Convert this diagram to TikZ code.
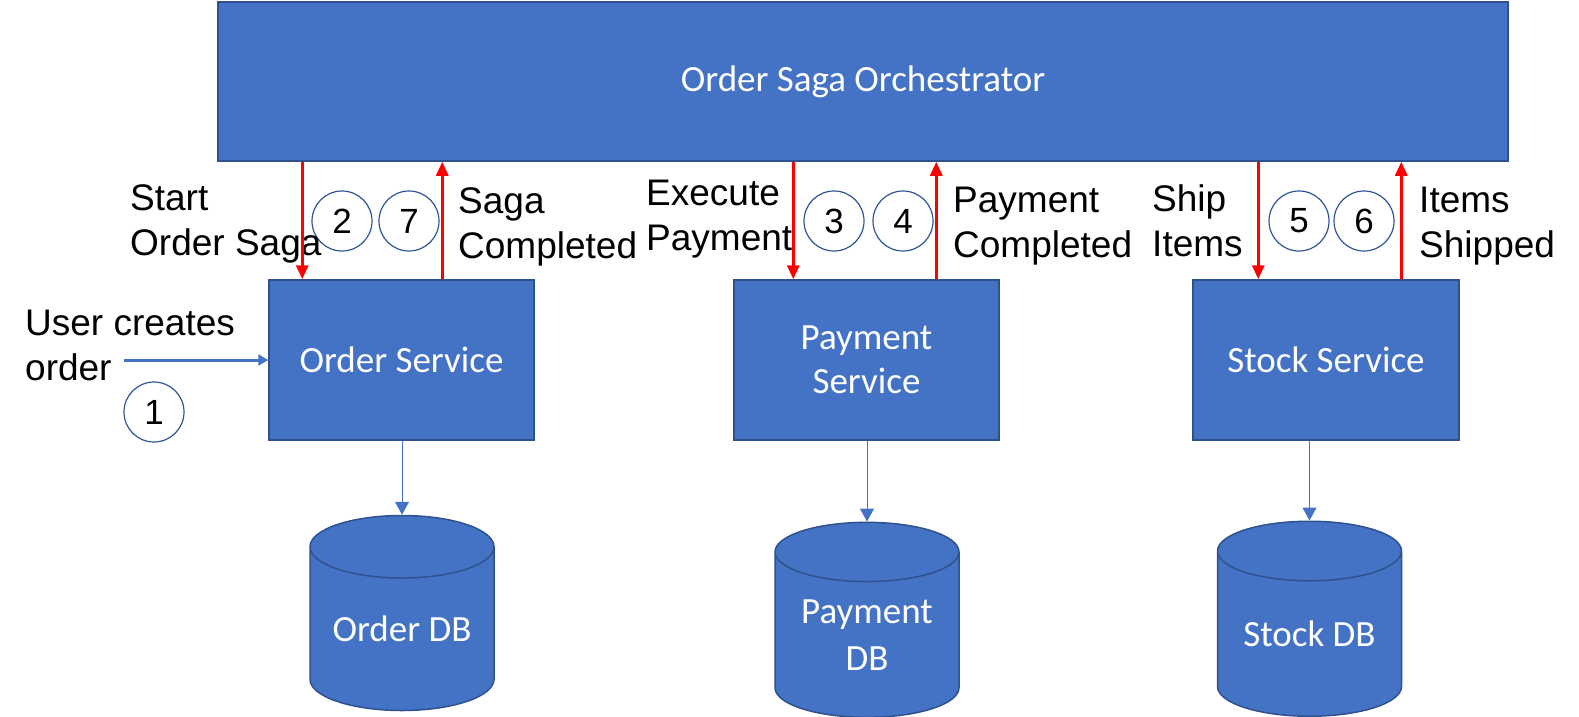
\documentclass[tikz,border=0pt]{standalone}
\usepackage{fontspec}
\setmainfont{Liberation Sans}
\newfontfamily\boxfont{Carlito}
\usepackage{tikz}
\usetikzlibrary{arrows.meta,shapes.geometric,calc}

\definecolor{boxblue}{HTML}{4472C4}
\definecolor{boxline}{HTML}{2F528F}
\definecolor{ringblue}{HTML}{2F5597}
\definecolor{msgred}{HTML}{FF0000}

\tikzset{
  service/.style={draw=boxline,line width=1.5pt,fill=boxblue,text=white,
    font=\boxfont\fontsize{37}{44}\selectfont,align=center,inner sep=0pt},
  db/.style={cylinder,shape border rotate=90,aspect=0.45,draw=boxline,line width=1.5pt,
    fill=boxblue,text=white,font=\boxfont\fontsize{37}{47}\selectfont,align=center,
    minimum width=184pt,minimum height=195pt,inner sep=0pt},
  stepno/.style={circle,draw=ringblue,line width=1.2pt,minimum size=60pt,inner sep=0pt,
    font=\fontsize{35}{40}\selectfont},
  msg/.style={anchor=north west,align=left,inner sep=0pt,font=\fontsize{37}{45}\selectfont},
  call/.style={draw=msgred,line width=3pt,-{Triangle[width=12pt,length=14pt]}},
  store/.style={draw=boxblue,line width=1pt,-{Triangle[width=14pt,length=13pt]}},
}

\begin{document}
\begin{tikzpicture}[x=1pt,y=-1pt]
\useasboundingbox (0,0) rectangle (1579,716);

% orchestrator and services
\node[service,minimum width=1290pt,minimum height=159pt] (orch) at (863,81.5) {Order Saga Orchestrator};
\node[service,minimum width=265pt,minimum height=160pt] (ordersvc) at (401.5,360) {Order Service};
\node[service,minimum width=265pt,minimum height=160pt] (paysvc) at (866.5,360) {Payment\\Service};
\node[service,minimum width=266pt,minimum height=160pt] (stocksvc) at (1326,360) {Stock Service};

% databases
\node[db] (orderdb) at (402,629) {Order DB};
\node[db] (paydb) at (867,635) {Payment\\DB};
\node[db] (stockdb) at (1309.5,634) {Stock DB};

% step numbers
\node[stepno] (s1) at (154,412) {1};
\node[stepno] (s2) at (342,221) {2};
\node[stepno] (s7) at (409,221) {7};
\node[stepno] (s3) at (834,221) {3};
\node[stepno] (s4) at (903,221) {4};
\node[stepno] (s5) at (1299,221) {5};
\node[stepno] (s6) at (1364,221) {6};

% message labels
\node[msg] (lstart) at (130,184) {Start\\Order Saga};
\node[msg] (ldone) at (458,187) {Saga\\Completed};
\node[msg] (lexec) at (646,180) {Execute\\Payment};
\node[msg] (lpaid) at (953,187) {Payment\\Completed};
\node[msg] (lship) at (1152,184) {Ship\\Items};
\node[msg] (lshipped) at (1419,187) {Items\\Shipped};
\node[msg] (luser) at (25,310) {User creates\\order};

% user request
\coordinate (user) at (124,360);
\draw[draw=boxblue,line width=3pt,-{Triangle[width=11pt,length=10pt]}] (user) -- (ordersvc.west |- user);

% orchestrator <-> services
\draw[call] ([xshift=34pt]ordersvc.north west |- orch.south) -- ([xshift=34pt]ordersvc.north west);
\draw[call] ([xshift=174pt]ordersvc.north west) -- ([xshift=174pt]ordersvc.north west |- orch.south);
\draw[call] ([xshift=60pt]paysvc.north west |- orch.south) -- ([xshift=60pt]paysvc.north west);
\draw[call] ([xshift=203pt]paysvc.north west) -- ([xshift=203pt]paysvc.north west |- orch.south);
\draw[call] ([xshift=66pt]stocksvc.north west |- orch.south) -- ([xshift=66pt]stocksvc.north west);
\draw[call] ([xshift=209pt]stocksvc.north west) -- ([xshift=209pt]stocksvc.north west |- orch.south);

% services -> databases
\draw[store] (orderdb.north |- ordersvc.south) -- (orderdb.north);
\draw[store] (paydb.north |- paysvc.south) -- (paydb.north);
\draw[store] (stockdb.north |- stocksvc.south) -- (stockdb.north);
\end{tikzpicture}
\end{document}
